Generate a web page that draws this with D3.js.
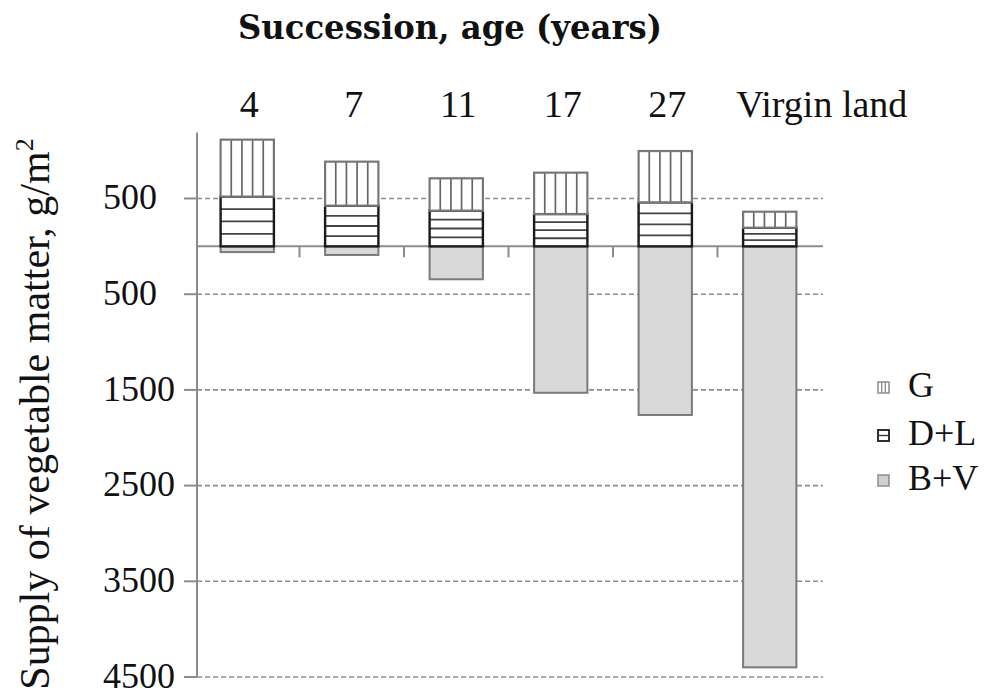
<!DOCTYPE html>
<html>
<head>
<meta charset="utf-8">
<script src="https://cdn.jsdelivr.net/npm/d3@7"></script>
<style>
  html, body { margin: 0; padding: 0; background: #fff; }
  svg { display: block; }
  .serif { font-family: "Liberation Serif", Tinos, "Times New Roman", "Noto Serif", "DejaVu Serif", serif; }
</style>
</head>
<body>
<svg id="chart" width="989" height="691"></svg>
<script>
// ---- data ----
const categories = ["4", "7", "11", "17", "27", "Virgin land"];
const gValues    = [595, 460, 338, 432, 536, 167];      // G (above zero)
const dlValues   = [520, 425, 373, 338, 460, 195];      // D+L (above zero)
const bvValues   = [60, 90, 344, 1530, 1762, 4399];     // B+V (below zero)
const yTickValues = [500, -500, -1500, -2500, -3500, -4500];
const yTickLabels = ["500", "500", "1500", "2500", "3500", "4500"];
const seriesNames = ["G", "D+L", "B+V"];
const titleText = "Succession, age (years)";
const yTitleText = "Supply of vegetable matter, g/m";

// ---- setup ----
const svg = d3.select("#chart");

const x = d3.scaleBand().domain(categories).range([195, 822])
  .paddingInner(0.49).paddingOuter(0.245);
const y = d3.scaleLinear().domain([-4500, 500]).range([677, 198.5]);
const yTop = 1190;
const axisX = 197;

// gridlines (dashed)
svg.append("g").selectAll("line").data(yTickValues).join("line")
  .attr("x1", axisX).attr("x2", 823)
  .attr("y1", d => y(d)).attr("y2", d => y(d))
  .attr("stroke", "#8c8c8c").attr("stroke-width", 1.6)
  .attr("stroke-dasharray", "5,3");

// B+V bars (below zero)
svg.append("g").selectAll("rect").data(bvValues).join("rect")
  .attr("x", (d, i) => x(categories[i]))
  .attr("y", y(0))
  .attr("width", x.bandwidth())
  .attr("height", d => y(-d) - y(0))
  .attr("fill", "#d9d9d9").attr("stroke", "#7a7a7a").attr("stroke-width", 2);

// zero line
svg.append("line")
  .attr("x1", axisX).attr("x2", 823)
  .attr("y1", y(0)).attr("y2", y(0))
  .attr("stroke", "#8c8c8c").attr("stroke-width", 2);

// category ticks on zero line (between bands)
svg.append("g").selectAll("line").data(categories.slice(1)).join("line")
  .attr("x1", d => x(d) - x.step() * x.paddingInner() / 2)
  .attr("x2", d => x(d) - x.step() * x.paddingInner() / 2)
  .attr("y1", y(0)).attr("y2", y(0) + 11)
  .attr("stroke", "#8c8c8c").attr("stroke-width", 2);

// D+L segments
const dlG = svg.append("g");
dlValues.forEach((v, i) => {
  const x0 = x(categories[i]), w = x.bandwidth();
  const top = y(v), bot = y(0), h = bot - top;
  dlG.append("rect").attr("x", x0).attr("y", top).attr("width", w).attr("height", h)
    .attr("fill", "#fff");
  const n = Math.min(3, Math.floor(h / 9));
  for (let k = 1; k <= n; k++) {
    const yy = top + k * h / (n + 1);
    dlG.append("line").attr("x1", x0).attr("x2", x0 + w).attr("y1", yy).attr("y2", yy)
      .attr("stroke", "#444").attr("stroke-width", 1.8);
  }
  dlG.append("rect").attr("x", x0).attr("y", top).attr("width", w).attr("height", h)
    .attr("fill", "none").attr("stroke", "#1a1a1a").attr("stroke-width", 2.4);
});

// G segments
const gG = svg.append("g");
gValues.forEach((v, i) => {
  const x0 = x(categories[i]), w = x.bandwidth();
  const top = y(v + dlValues[i]), bot = y(dlValues[i]), h = bot - top;
  gG.append("rect").attr("x", x0).attr("y", top).attr("width", w).attr("height", h)
    .attr("fill", "#fff");
  for (let k = 1; k <= 4; k++) {
    const xx = x0 + k * w / 5;
    gG.append("line").attr("x1", xx).attr("x2", xx).attr("y1", top).attr("y2", bot)
      .attr("stroke", "#666").attr("stroke-width", 1.7);
  }
  gG.append("rect").attr("x", x0).attr("y", top).attr("width", w).attr("height", h)
    .attr("fill", "none").attr("stroke", "#777").attr("stroke-width", 2.2);
});

// y axis line + ticks
svg.append("line").attr("x1", axisX).attr("x2", axisX)
  .attr("y1", y(yTop)).attr("y2", y(-4500))
  .attr("stroke", "#8c8c8c").attr("stroke-width", 2);
svg.append("g").selectAll("line").data(yTickValues).join("line")
  .attr("x1", axisX - 13).attr("x2", axisX)
  .attr("y1", d => y(d)).attr("y2", d => y(d))
  .attr("stroke", "#8c8c8c").attr("stroke-width", 2);

// y tick labels
svg.append("g").selectAll("text").data(yTickValues).join("text")
  .attr("class", "serif")
  .attr("x", 103).attr("y", d => y(d)).attr("dy", "0.3em")
  .attr("font-size", 36).attr("fill", "#111")
  .text((d, i) => yTickLabels[i]);

// category labels (top)
svg.append("g").selectAll("text").data(categories).join("text")
  .attr("class", "serif")
  .attr("x", d => x(d) + x.bandwidth() / 2 + (d.length > 3 ? 52 : 2))
  .attr("y", 117)
  .attr("text-anchor", "middle")
  .attr("font-size", 38).attr("fill", "#111")
  .text(d => d);

// title
svg.append("text").attr("x", 238).attr("y", 39)
  .attr("font-family", "'DejaVu Serif', serif").attr("font-weight", "bold")
  .attr("font-size", 33).attr("fill", "#111")
  .attr("textLength", 424).attr("lengthAdjust", "spacingAndGlyphs")
  .text(titleText);

// y title
const yt = svg.append("text")
  .attr("class", "serif")
  .attr("transform", "translate(49,414) rotate(-90)")
  .attr("text-anchor", "middle")
  .attr("font-size", 42).attr("fill", "#111");
yt.append("tspan").text(yTitleText);
yt.append("tspan").attr("font-size", 26).attr("dy", -16).text("2");

// legend
const legY = [397, 445, 490];
const leg = svg.append("g");
seriesNames.forEach((name, i) => {
  const sx = 878, sy = legY[i] - 15, s = 11;
  if (i === 0) {
    leg.append("rect").attr("x", sx).attr("y", sy).attr("width", s).attr("height", s)
      .attr("fill", "#fff").attr("stroke", "#8c8c8c").attr("stroke-width", 1.5);
    [1, 2].forEach(k => leg.append("line").attr("x1", sx + k * s / 3).attr("x2", sx + k * s / 3)
      .attr("y1", sy).attr("y2", sy + s).attr("stroke", "#8c8c8c").attr("stroke-width", 1.3));
  } else if (i === 1) {
    leg.append("rect").attr("x", sx).attr("y", sy).attr("width", s).attr("height", s)
      .attr("fill", "#fff").attr("stroke", "#1a1a1a").attr("stroke-width", 1.8);
    leg.append("line").attr("x1", sx).attr("x2", sx + s).attr("y1", sy + s / 2).attr("y2", sy + s / 2)
      .attr("stroke", "#333").attr("stroke-width", 1.3);
  } else {
    leg.append("rect").attr("x", sx).attr("y", sy).attr("width", s).attr("height", s)
      .attr("fill", "#d0d0d0").attr("stroke", "#8c8c8c").attr("stroke-width", 1.5);
  }
  leg.append("text").attr("class", "serif").attr("x", 908).attr("y", legY[i])
    .attr("font-size", 36).attr("fill", "#111")
    .text(name);
});
</script>
</body>
</html>
